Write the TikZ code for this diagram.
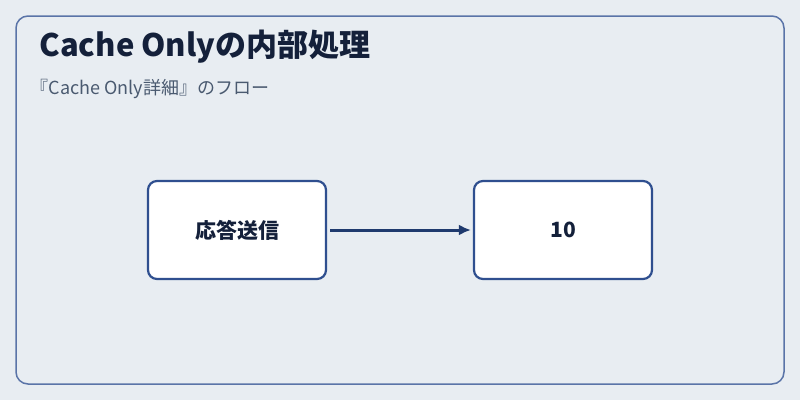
\documentclass[tikz,border=0pt]{standalone}
\usepackage{fontspec}
\setmainfont{Noto Sans CJK JP}
\usetikzlibrary{arrows.meta}
\definecolor{bgcol}{HTML}{E8EDF2}
\definecolor{framecol}{HTML}{5A74A8}
\definecolor{boxcol}{HTML}{2F4F8F}
\definecolor{arrowcol}{HTML}{1F3A6E}
\definecolor{titlecol}{HTML}{14203A}
\definecolor{subcol}{HTML}{4A5A70}

\begin{document}
\begin{tikzpicture}[x=1pt, y=-1pt,
    stepbox/.style={draw=boxcol, line width=2.2pt, fill=white, rounded corners=9pt,
      minimum width=178pt, minimum height=98pt, font=\fontsize{21}{24}\selectfont\bfseries, text=titlecol},
    flow/.style={-{Latex[length=12pt,width=11pt]}, draw=arrowcol, line width=3pt}]
  \useasboundingbox (0,0) rectangle (800,400);
  \fill[bgcol] (0,0) rectangle (800,400);
  \draw[framecol, line width=1.5pt, rounded corners=12pt] (16,16) rectangle (784,384);
  \node[anchor=west, text=titlecol, font=\fontsize{31}{35}\selectfont\bfseries] (title) at (36,47) {Cache Onlyの内部処理};
  \node[anchor=west, text=subcol, font=\fontsize{18}{21}\selectfont] (sub) at (27,89) {『Cache Only詳細』のフロー};
  \node[stepbox] (send) at (237,230) {応答送信};
  \node[stepbox] (ten) at (563,230) {10};
  \draw[flow] (send.east) ++(3,0) -- ([xshift=-2pt]ten.west);
\end{tikzpicture}
\end{document}
